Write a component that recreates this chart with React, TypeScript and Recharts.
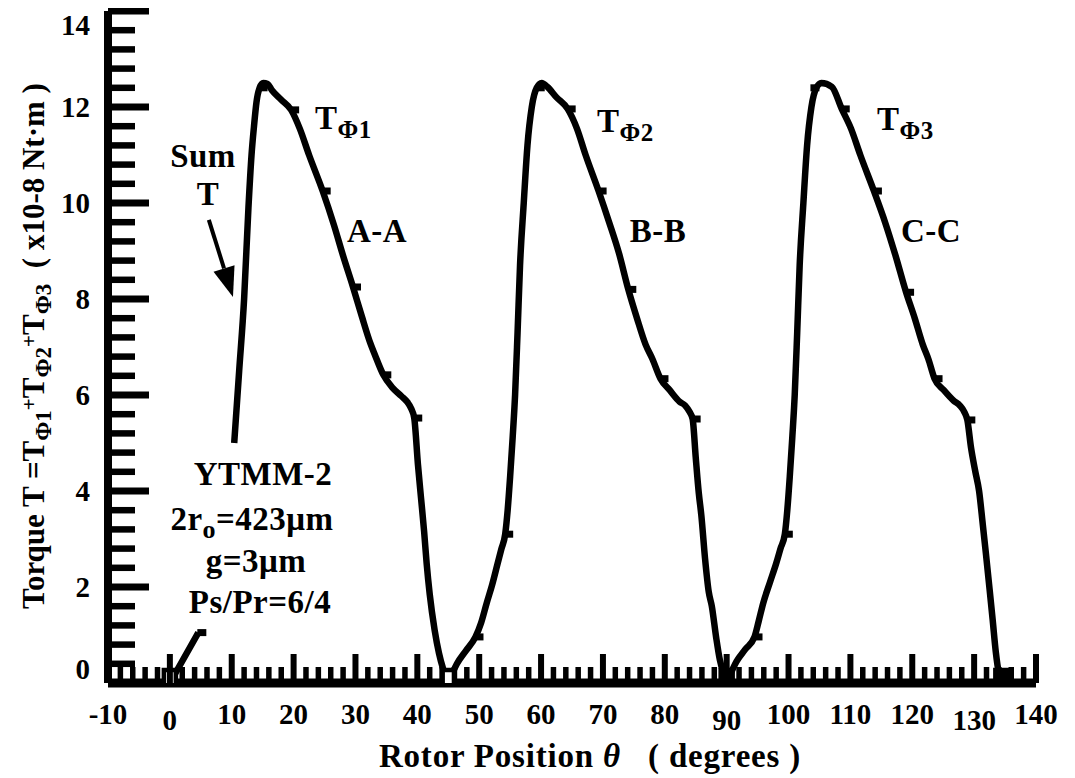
import React from "react";
import { ComposedChart, Line, XAxis, YAxis, ReferenceLine } from "recharts";

// rotor position (deg) and torque (x10-8 Nt.m) for each phase
const phase1Theta = [0, 4.6, 7.5, 10.4, 11.2, 12.0, 12.7, 13.2, 13.6, 14.0, 14.5, 15.1, 15.8, 16.5, 18.0, 19.6, 21.0, 22.5, 24.7, 26.5, 28.0, 29.6, 31.0, 32.4, 33.1, 34.5, 36.0, 37.4, 38.4, 39.0, 39.5, 40.1, 40.6, 41.1, 41.5, 42.0, 42.8, 43.5, 44.2, 45.0];
const phase1Torque = [0, 1.05, null, 5.0, 6.5, 8.0, 9.9, 11.0, 11.6, 12.1, 12.4, 12.5, 12.48, 12.35, 12.15, 11.94, 11.55, 11.0, 10.25, 9.55, 8.9, 8.25, 7.65, 7.08, 6.85, 6.42, 6.15, 5.98, 5.85, 5.72, 5.52, 4.55, 3.85, 3.15, 2.5, 1.85, 1.1, 0.62, 0.28, 0];

const phase2Theta = [45.0, 46.4, 47.9, 49.4, 50.3, 51.2, 52.1, 52.9, 53.6, 54.2, 54.6, 55.0, 55.4, 55.8, 56.2, 56.6, 57.2, 57.8, 58.5, 59.3, 60.1, 61.0, 62.5, 64.3, 65.8, 67.2, 69.3, 71.0, 72.6, 74.1, 75.5, 76.9, 78.0, 79.3, 80.8, 82.4, 83.3, 84.0, 84.5, 85.0, 85.5, 85.9, 86.5, 87.1, 87.6, 88.3, 88.9, 89.5, 90.0];
const phase2Torque = [0, 0.4, 0.68, 0.96, 1.25, 1.66, 2.05, 2.45, 2.8, 3.1, 3.6, 4.3, 5.1, 6.0, 7.3, 8.7, 10.0, 11.2, 12.0, 12.4, 12.5, 12.42, 12.2, 11.96, 11.55, 11.0, 10.25, 9.6, 8.95, 8.2, 7.6, 7.05, 6.75, 6.34, 6.1, 5.86, 5.78, 5.65, 5.5, 4.7, 3.95, 3.5, 2.6, 1.9, 1.6, 0.95, 0.48, 0.2, 0];

const phase3Theta = [90.0, 91.6, 93.0, 94.5, 95.2, 95.9, 97.0, 98.0, 98.7, 99.4, 99.8, 100.2, 100.6, 101.0, 101.4, 101.8, 102.4, 103.0, 103.7, 104.5, 105.3, 107.0, 108.6, 110.1, 111.6, 113.8, 115.6, 117.3, 119.0, 120.4, 121.7, 122.6, 123.6, 125.1, 126.7, 127.7, 128.4, 128.9, 129.5, 130.2, 130.8, 131.4, 131.9, 132.5, 133.0, 133.5, 134.0, 134.4];
const phase3Torque = [0, 0.45, 0.7, 0.96, 1.3, 1.66, 2.1, 2.49, 2.8, 3.1, 3.6, 4.3, 5.1, 6.0, 7.3, 8.7, 10.0, 11.2, 12.0, 12.4, 12.5, 12.42, 11.96, 11.55, 11.0, 10.25, 9.6, 8.9, 8.14, 7.6, 7.05, 6.75, 6.34, 6.1, 5.88, 5.78, 5.65, 5.48, 4.9, 4.4, 4.0, 3.3, 2.7, 1.95, 1.31, 0.65, 0.2, 0];

// measured points (small square symbols)
const markerTheta = [4.6, 14.5, 19.6, 24.7, 29.6, 34.5, 39.5, 49.4, 54.2, 59.3, 64.3, 69.3, 74.1, 79.3, 84.5, 94.5, 99.4, 103.7, 108.6, 113.8, 119.0, 123.6, 128.9];
const markerTorque = [1.05, 12.4, 11.94, 10.25, 8.25, 6.42, 5.52, 0.96, 3.1, 12.4, 11.96, 10.25, 8.2, 6.34, 5.5, 0.96, 3.1, 12.4, 11.96, 10.25, 8.14, 6.34, 5.48];

// zero-torque alignment positions
const alignTheta = [0, 45, 90, 134.4];
const alignTorque = [0, 0, 0, 0];

const xMajor = [-10, 0, 10, 20, 30, 40, 50, 60, 70, 80, 90, 100, 110, 120, 130, 140];
const yMajor = [0, 2, 4, 6, 8, 10, 12, 14];

const xTicks = Array.from({ length: 76 }, (_, i) => -10 + i * 2);
const yTicks = Array.from({ length: 36 }, (_, i) => Math.round(i * 4) / 10);

const zip = (t: number[], v: (number | null)[]) => t.map((theta, i) => ({ theta, torque: v[i] }));
const phase1 = zip(phase1Theta, phase1Torque);
const phase2 = zip(phase2Theta, phase2Torque);
const phase3 = zip(phase3Theta, phase3Torque);
const markers = zip(markerTheta, markerTorque);
const aligns = zip(alignTheta, alignTorque);

const FONT = '"Liberation Serif", "Times New Roman", serif';
const isMajorY = (v: number) => yMajor.some((m) => Math.abs(m - v) < 1e-6);

function BottomTick(props: any) {
  const { x, y, payload } = props;
  const v = payload.value;
  const major = xMajor.includes(v);
  const drop = v === 0 || v === 90 || v === 130 ? 6 : 0;
  return (
    <g>
      <line x1={x} x2={x} y1={y} y2={y - (major ? 29 : 16)} stroke="#000" strokeWidth={major ? 6 : 5.5} />
      {major && (
        <text x={x} y={y + 41 + drop} textAnchor="middle" fontSize={29} fontWeight="bold" fontFamily={FONT} fill="#000">
          {v}
        </text>
      )}
    </g>
  );
}

function TopTick(props: any) {
  const { x, y, payload } = props;
  const major = xMajor.includes(payload.value);
  return <line x1={x} x2={x} y1={y} y2={y + (major ? 29 : 14)} stroke="#000" strokeWidth={major ? 6 : 5.5} />;
}

function LeftTick(props: any) {
  const { x, y, payload } = props;
  const v = payload.value;
  const major = isMajorY(v);
  const shift = v === 14 ? 14 : v === 0 ? -14 : 0;
  return (
    <g>
      <line x1={x} x2={x + (major ? 41 : 27)} y1={y} y2={y} stroke="#000" strokeWidth={major ? 7 : 6.5} />
      {major && (
        <text x={x - 18} y={y + 10 + shift} textAnchor="end" fontSize={29} fontWeight="bold" fontFamily={FONT} fill="#000">
          {Math.round(v)}
        </text>
      )}
    </g>
  );
}

function RightTick(props: any) {
  const { x, y, payload } = props;
  const major = isMajorY(payload.value);
  return <line x1={x} x2={x - (major ? 41 : 25)} y1={y} y2={y} stroke="#000" strokeWidth={major ? 7 : 6.5} />;
}

function MarkerDot(props: any) {
  const { cx, cy } = props;
  if (cx == null || cy == null) return null;
  return <rect x={cx - 1} y={cy - 3.5} width={9} height={7} fill="#000" />;
}

function AlignDot(props: any) {
  const { cx, cy, payload } = props;
  if (cx == null || cy == null) return null;
  const hollow = payload.theta < 60;
  return (
    <rect x={cx - 6} y={cy - 13} width={12} height={27} fill={hollow ? "#fff" : "#000"} stroke="#000" strokeWidth={4.5} />
  );
}

function Arrow(props: any) {
  const { x1, y1, x2, y2 } = props;
  const dx = x2 - x1;
  const dy = y2 - y1;
  const len = Math.sqrt(dx * dx + dy * dy);
  const ux = dx / len;
  const uy = dy / len;
  const hl = 30;
  const hw = 11;
  const bx = x2 - ux * hl;
  const by = y2 - uy * hl;
  return (
    <g>
      <line x1={x1} y1={y1} x2={bx} y2={by} stroke="#000" strokeWidth={4} />
      <polygon points={`${x2},${y2} ${bx - uy * hw},${by + ux * hw} ${bx + uy * hw},${by - ux * hw}`} fill="#000" />
    </g>
  );
}

const arrowFrom = { x: 6.3, y: 9.65 };
const arrowTo = { x: 10.2, y: 8.04 };

const txt = { fontFamily: FONT, fontWeight: "bold" as const, fill: "#000" };
const note = { ...txt, fontSize: 33, letterSpacing: 0.5 };

export default function App() {
  return (
    <div style={{ position: "relative", width: 1067, height: 770, background: "#fff" }}>
      <ComposedChart width={1067} height={770} margin={{ top: 3, right: 39, bottom: 0, left: 0 }}>
        <XAxis
          dataKey="theta"
          type="number"
          domain={[-10, 140]}
          ticks={xTicks}
          interval={0}
          height={95}
          tickSize={0}
          tickMargin={0}
          tickLine={false}
          axisLine={{ stroke: "#000", strokeWidth: 9 }}
          tick={BottomTick}
          allowDataOverflow
        />
        <XAxis
          xAxisId="top"
          orientation="top"
          type="number"
          domain={[-10, 140]}
          ticks={xTicks}
          interval={0}
          height={0}
          tickSize={0}
          tickMargin={0}
          tickLine={false}
          axisLine={{ stroke: "#000", strokeWidth: 7 }}
          tick={TopTick}
          allowDataOverflow
        />
        <YAxis
          type="number"
          domain={[0, 14]}
          ticks={yTicks}
          interval={0}
          width={100}
          tickSize={0}
          tickMargin={0}
          tickLine={false}
          axisLine={{ stroke: "#000", strokeWidth: 8 }}
          tick={LeftTick}
          allowDataOverflow
        />
        <YAxis
          yAxisId="right"
          orientation="right"
          type="number"
          domain={[0, 14]}
          ticks={yTicks}
          interval={0}
          width={0}
          tickSize={0}
          tickMargin={0}
          tickLine={false}
          axisLine={{ stroke: "#000", strokeWidth: 5 }}
          tick={RightTick}
          allowDataOverflow
        />
        <Line data={phase1} dataKey="torque" type="monotone" stroke="#000" strokeWidth={6.5} dot={false} activeDot={false} connectNulls={false} isAnimationActive={false} />
        <Line data={phase2} dataKey="torque" type="monotone" stroke="#000" strokeWidth={6.5} dot={false} activeDot={false} isAnimationActive={false} />
        <Line data={phase3} dataKey="torque" type="monotone" stroke="#000" strokeWidth={6.5} dot={false} activeDot={false} isAnimationActive={false} />
        <Line data={markers} dataKey="torque" stroke="none" dot={MarkerDot} activeDot={false} isAnimationActive={false} />
        <Line data={aligns} dataKey="torque" stroke="none" dot={AlignDot} activeDot={false} isAnimationActive={false} />
        <ReferenceLine segment={[arrowFrom, arrowTo]} shape={Arrow} ifOverflow="visible" />
      </ComposedChart>
      <svg width={1067} height={770} style={{ position: "absolute", left: 0, top: 0, pointerEvents: "none" }}>
        <text transform="translate(36,338) rotate(-90)" textAnchor="middle" fontSize={31} {...txt}>
          Torque T =T<tspan dy={7} fontSize={23}>Φ1</tspan>
          <tspan dy={-15} fontSize={21}>+</tspan>
          <tspan dy={8}>T</tspan>
          <tspan dy={7} fontSize={23}>Φ2</tspan>
          <tspan dy={-15} fontSize={21}>+</tspan>
          <tspan dy={8}>T</tspan>
          <tspan dy={7} fontSize={23}>Φ3</tspan>
          <tspan dy={-7}>{"\u00A0\u00A0( x10-8 Nt·m )"}</tspan>
        </text>
        <text x={582} y={759} textAnchor="middle" fontSize={33} letterSpacing={0.8} {...txt}>
          Rotor Position <tspan fontStyle="italic">θ</tspan>
          {"\u00A0\u00A0\u00A0( degrees )"}
        </text>

        <text x={195} y={159} textAnchor="middle" {...note}>Sum</text>
        <text x={200} y={197} textAnchor="middle" {...note}>T</text>

        <text x={307} y={121} {...note}>
          T<tspan dy={9} fontSize={25}>Φ1</tspan>
        </text>
        <text x={589} y={124} {...note}>
          T<tspan dy={9} fontSize={25}>Φ2</tspan>
        </text>
        <text x={869} y={122} {...note}>
          T<tspan dy={9} fontSize={25}>Φ3</tspan>
        </text>

        <text x={369} y={234} textAnchor="middle" {...note}>A-A</text>
        <text x={650} y={234} textAnchor="middle" {...note}>B-B</text>
        <text x={923} y={234} textAnchor="middle" {...note}>C-C</text>

        <text x={255} y={477} textAnchor="middle" {...note}>YTMM-2</text>
        <text x={244} y={522} textAnchor="middle" {...note}>
          2r<tspan dy={8} fontSize={26}>o</tspan>
          <tspan dy={-8}>=423μm</tspan>
        </text>
        <text x={248} y={564} textAnchor="middle" {...note}>g=3μm</text>
        <text x={252} y={605} textAnchor="middle" {...note}>Ps/Pr=6/4</text>
      </svg>
    </div>
  );
}
